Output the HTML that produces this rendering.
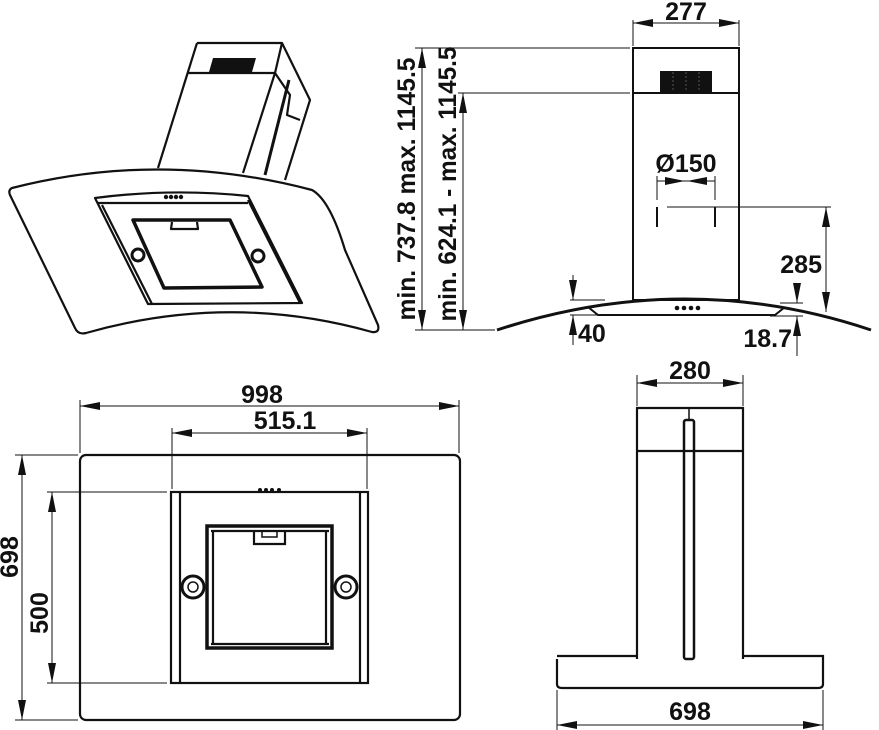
<!DOCTYPE html>
<html><head><meta charset="utf-8"><style>
html,body{margin:0;padding:0;background:#fff;}
#w{position:relative;width:879px;height:730px;overflow:hidden;}
svg{display:block;position:absolute;left:0;top:0;}
text{font-family:"Liberation Sans",Arial,sans-serif;font-weight:bold;font-size:25px;fill:#111;}
.r,.l,.u,.d{position:absolute;width:0;height:0;border-style:solid;border-color:transparent;}
.r{border-width:4px 0 4px 20px;border-left-color:#111;}
.l{border-width:4px 20px 4px 0;border-right-color:#111;}
.u{border-width:0 4px 20px 4px;border-bottom-color:#111;}
.d{border-width:20px 4px 0 4px;border-top-color:#111;}
</style></head><body><div id="w">
<svg width="879" height="730" viewBox="0 0 879 730" xmlns="http://www.w3.org/2000/svg">
<g stroke="#111" fill="none">

<g stroke-width="2.2" stroke-linejoin="round">
<path d="M197,43 L282,43 L310,100 L285,180"/>
<path d="M197,43 L158,168"/>
<path d="M187,73 L275,73 L243,173"/>
<path d="M282,43 L275,73"/>
<path d="M275,73 L290,95 L287,115 L300,120"/>
<path d="M289,80 L265,175" stroke-width="3"/>
<path d="M12,188 Q160,150 312,190 Q330,200 345,250 L378,325 Q380,333 372,332 Q230,292 86,333 Q78,335 75,328 L10,195 Q8,190 12,188 Z" fill="#fff"/>
<path d="M95,198 Q172,188 248,196 L302,303 L148,304 Z"/>
<path d="M248,200 L300,303"/>
<path d="M98,203 L248,203"/>
<path d="M102,205 L152,304"/>
<path d="M133,220 L230,220 L262,287 L164,288 Z" stroke-width="3.5"/>
<path d="M172,222 L171,229 L198,229 L197,222"/>
<circle cx="138" cy="255" r="6" fill="#fff" stroke-width="3"/>
<circle cx="258" cy="256" r="6" fill="#fff" stroke-width="3"/>
</g>
<path d="M213,58 L256,58 L252,72 L209,72 Z" fill="#111" stroke="none"/>
<g fill="#111" stroke="none"><circle cx="166" cy="197" r="2.2"/><circle cx="171" cy="197" r="2.2"/><circle cx="176" cy="197" r="2.2"/><circle cx="181" cy="197" r="2.2"/></g>

<rect x="660" y="71" width="52" height="22" fill="#111" stroke="none"/>
<g stroke="#555" stroke-width="1" stroke-dasharray="2,2"><line x1="673" y1="72" x2="673" y2="92"/><line x1="686" y1="72" x2="686" y2="92"/><line x1="699" y1="72" x2="699" y2="92"/></g>
<g stroke-width="2">
<rect x="633" y="48" width="106" height="252"/>
<line x1="633" y1="93" x2="739" y2="93"/>
<line x1="657" y1="207" x2="657" y2="227"/>
<line x1="715" y1="207" x2="715" y2="227"/>
<path d="M588,307 L598,315 L775,315 L785,307"/>
</g>
<g stroke-width="1">
<line x1="633" y1="20" x2="633" y2="46"/>
<line x1="739" y1="20" x2="739" y2="46"/>
<line x1="633" y1="23" x2="739" y2="23"/>
<line x1="415" y1="48" x2="630" y2="48"/>
<line x1="458" y1="93" x2="630" y2="93"/>
<line x1="415" y1="330" x2="495" y2="330"/>
<line x1="422" y1="48" x2="422" y2="330"/>
<line x1="463" y1="93" x2="463" y2="330"/>
<line x1="657" y1="176" x2="657" y2="200"/>
<line x1="715" y1="176" x2="715" y2="200"/>
<line x1="657" y1="181" x2="715" y2="181"/>
<line x1="667" y1="207" x2="831" y2="207"/>
<line x1="826" y1="207" x2="826" y2="312"/>
<line x1="570" y1="300" x2="605" y2="300"/>
<line x1="570" y1="315" x2="600" y2="315"/>
<line x1="573" y1="275" x2="573" y2="300"/>
<line x1="573" y1="345" x2="573" y2="315"/>
<line x1="780" y1="303" x2="803" y2="303"/>
<line x1="770" y1="316" x2="803" y2="316"/>
<line x1="797" y1="283" x2="797" y2="303"/>
<line x1="797" y1="356" x2="797" y2="316"/>
</g>
<path d="M497,330 Q686,268 871,330" stroke-width="3"/>
<g fill="#111" stroke="none"><circle cx="677" cy="308" r="2.3"/><circle cx="684" cy="308" r="2.3"/><circle cx="691" cy="308" r="2.3"/><circle cx="698" cy="308" r="2.3"/></g>

<g stroke-width="1">
<line x1="80" y1="400" x2="80" y2="453"/>
<line x1="459" y1="400" x2="459" y2="453"/>
<line x1="80" y1="406" x2="459" y2="406"/>
<line x1="172" y1="428" x2="172" y2="489"/>
<line x1="367" y1="428" x2="367" y2="489"/>
<line x1="172" y1="433" x2="367" y2="433"/>
<line x1="15" y1="455" x2="78" y2="455"/>
<line x1="15" y1="720" x2="78" y2="720"/>
<line x1="22" y1="455" x2="22" y2="720"/>
<line x1="47" y1="492" x2="167" y2="492"/>
<line x1="47" y1="683" x2="167" y2="683"/>
<line x1="52" y1="492" x2="52" y2="683"/>
</g>
<g stroke-width="2.2">
<rect x="80" y="455" width="380" height="265" rx="6"/>
<rect x="171" y="492" width="197" height="191"/>
<line x1="180" y1="492" x2="180" y2="683"/>
<line x1="360" y1="492" x2="360" y2="683"/>
<rect x="207" y="526" width="125" height="122" stroke-width="3.5"/>
<line x1="213" y1="530" x2="213" y2="644"/>
<line x1="211" y1="644" x2="329" y2="644"/>
<line x1="326" y1="530" x2="326" y2="644"/>
<line x1="211" y1="531" x2="329" y2="531"/>
<path d="M254,531 L254,544 L285,544 L285,531"/>
<rect x="262" y="531" width="15" height="6" stroke-width="1.5"/>
<circle cx="193" cy="587" r="11" fill="#fff" stroke-width="3"/>
<circle cx="346" cy="587" r="11" fill="#fff" stroke-width="3"/>
<circle cx="193" cy="587" r="5" stroke-width="1.5"/>
<circle cx="346" cy="587" r="5" stroke-width="1.5"/>
</g>
<g fill="#111" stroke="none"><circle cx="260" cy="490" r="2"/><circle cx="266" cy="490" r="2"/><circle cx="272" cy="490" r="2"/><circle cx="279" cy="490" r="2"/></g>

<g stroke-width="1">
<line x1="637" y1="375" x2="637" y2="406"/>
<line x1="743" y1="375" x2="743" y2="406"/>
<line x1="637" y1="383" x2="743" y2="383"/>
<line x1="557" y1="690" x2="557" y2="730"/>
<line x1="823" y1="690" x2="823" y2="730"/>
<line x1="557" y1="725" x2="823" y2="725"/>
</g>
<g stroke-width="2.2">
<path d="M637,659 L637,408 L743,408 L743,659"/>
<line x1="637" y1="451" x2="743" y2="451"/>
<path d="M557,659 L557,684 Q557,688 562,688 L818,688 Q823,688 823,684 L823,656 L743,656 M637,656 L557,656"/>
<rect x="684" y="420" width="10" height="239" rx="2" stroke-width="2.5"/>
<line x1="689" y1="408" x2="689" y2="420" stroke-width="1.5"/>
</g>
</g>

<text x="686" y="20" text-anchor="middle">277</text>
<text x="686" y="172" text-anchor="middle">Ø150</text>
<text x="822" y="273" text-anchor="end">285</text>
<text x="578" y="342">40</text>
<text x="792" y="347" text-anchor="end">18.7</text>
<text transform="translate(415,189) rotate(-90)" text-anchor="middle" textLength="263" lengthAdjust="spacingAndGlyphs">min. 737.8 max. 1145.5</text>
<text transform="translate(456,184) rotate(-90)" text-anchor="middle" textLength="275" lengthAdjust="spacingAndGlyphs">min. 624.1 - max. 1145.5</text>
<text x="262" y="403" text-anchor="middle">998</text>
<text x="285" y="429" text-anchor="middle">515.1</text>
<text transform="translate(18,557) rotate(-90)" text-anchor="middle">698</text>
<text transform="translate(48,613) rotate(-90)" text-anchor="middle">500</text>
<text x="690" y="379" text-anchor="middle">280</text>
<text x="690" y="720" text-anchor="middle">698</text>
</svg>

<div class="r" style="left:719px;top:19px"></div>
<div class="r" style="left:439px;top:402px"></div>
<div class="r" style="left:347px;top:429px"></div>
<div class="r" style="left:723px;top:379px"></div>
<div class="r" style="left:803px;top:721px"></div>
<div class="r" style="left:665px;top:177px"></div>
<div class="l" style="left:633px;top:19px"></div>
<div class="l" style="left:80px;top:402px"></div>
<div class="l" style="left:172px;top:429px"></div>
<div class="l" style="left:637px;top:379px"></div>
<div class="l" style="left:557px;top:721px"></div>
<div class="l" style="left:687px;top:177px"></div>
<div class="u" style="left:418px;top:48px"></div>
<div class="u" style="left:459px;top:93px"></div>
<div class="u" style="left:822px;top:207px"></div>
<div class="u" style="left:569px;top:315px"></div>
<div class="u" style="left:793px;top:316px"></div>
<div class="u" style="left:18px;top:455px"></div>
<div class="u" style="left:48px;top:492px"></div>
<div class="d" style="left:418px;top:310px"></div>
<div class="d" style="left:459px;top:310px"></div>
<div class="d" style="left:822px;top:292px"></div>
<div class="d" style="left:569px;top:280px"></div>
<div class="d" style="left:793px;top:283px"></div>
<div class="d" style="left:18px;top:700px"></div>
<div class="d" style="left:48px;top:663px"></div>
</div></body></html>
